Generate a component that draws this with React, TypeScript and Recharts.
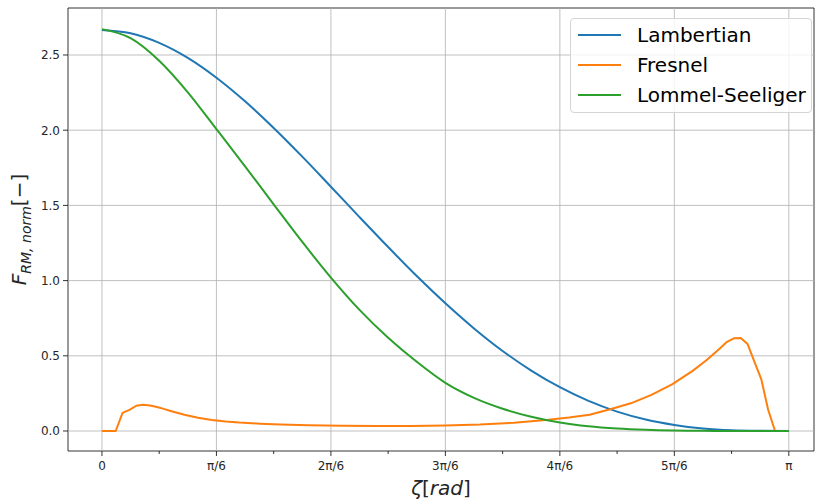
import {
  LineChart,
  Line,
  XAxis,
  YAxis,
  ReferenceLine,
  ReferenceArea,
} from "recharts";

// phase angle in degrees (axis is labelled in fractions of pi)
const SMOOTH_DEG = [
  0, 7.5, 15, 22.5, 30, 37.5, 45, 52.5, 60, 67.5, 75, 82.5, 90, 97.5, 105,
  112.5, 120, 127.5, 135, 142.5, 150, 157.5, 165, 172.5, 180,
];
const LAMBERTIAN = [
  2.667, 2.645, 2.581, 2.481, 2.349, 2.192, 2.015, 1.824, 1.624, 1.422, 1.223,
  1.03, 0.849, 0.682, 0.532, 0.402, 0.291, 0.2, 0.129, 0.076, 0.04, 0.017,
  0.005, 0.001, 0,
];
const LOMMEL_SEELIGER = [
  2.672, 2.612, 2.462, 2.252, 2.007, 1.76, 1.507, 1.257, 1.02, 0.805, 0.62,
  0.46, 0.32, 0.22, 0.148, 0.095, 0.057, 0.032, 0.017, 0.008, 0.003, 0.001, 0,
  0, 0,
];

const FRESNEL_DEG = [
  0, 1.8, 3.6, 5.4, 7.2, 9, 10.8, 12.6, 14.4, 16.2, 18, 21.6, 25.2, 28.8, 32.4,
  36, 41.4, 46.8, 54, 63, 72, 81, 90, 99, 108, 117, 122.4, 127.8, 133.2, 138.6,
  144, 149.4, 154.8, 158.4, 162, 163.8, 165.6, 167.4, 169.2, 171, 172.8, 174.6,
  176.4,
];
const FRESNEL = [
  0, 0, 0, 0.12, 0.14, 0.168, 0.175, 0.17, 0.16, 0.147, 0.133, 0.108, 0.088,
  0.073, 0.063, 0.056, 0.049, 0.044, 0.039, 0.035, 0.033, 0.033, 0.037, 0.043,
  0.055, 0.074, 0.089, 0.108, 0.145, 0.184, 0.24, 0.31, 0.4, 0.47, 0.55, 0.593,
  0.616, 0.618, 0.578, 0.46, 0.343, 0.14, 0,
];

const X_MAJOR = [0, 30, 60, 90, 120, 150, 180];
const X_MAJOR_LABELS = ["0", "π/6", "2π/6", "3π/6", "4π/6", "5π/6", "π"];
const X_TICKS = [0, 15, 30, 45, 60, 75, 90, 105, 120, 135, 150, 165, 180];
const Y_TICKS = [0, 0.5, 1, 1.5, 2, 2.5];
const X_DOMAIN = [-8.9, 186.6];
const Y_DOMAIN = [-0.133, 2.8125];

const lambertData = SMOOTH_DEG.map((d, i) => ({ deg: d, v: LAMBERTIAN[i] }));
const lommelData = SMOOTH_DEG.map((d, i) => ({ deg: d, v: LOMMEL_SEELIGER[i] }));
const fresnelData = FRESNEL_DEG.map((d, i) => ({ deg: d, v: FRESNEL[i] }));

const SERIES = [
  { name: "Lambertian", color: "#1f77b4" },
  { name: "Fresnel", color: "#ff7f0e" },
  { name: "Lommel-Seeliger", color: "#2ca02c" },
];

const FONT = "DejaVu Sans, sans-serif";
const TEXT = "#262626";

function XTick({ x, y, payload }: any) {
  const idx = X_MAJOR.indexOf(payload.value);
  const major = idx >= 0;
  return (
    <g>
      <line x1={x} x2={x} y1={y} y2={y + (major ? 5 : 3)} stroke="#000" strokeWidth={0.8} />
      {major && (
        <text x={x} y={y + 19} textAnchor="middle" fontSize={12} fill={TEXT} fontFamily={FONT}>
          {X_MAJOR_LABELS[idx]}
        </text>
      )}
    </g>
  );
}

function YTick({ x, y, payload }: any) {
  return (
    <g>
      <line x1={x - 5} x2={x} y1={y} y2={y} stroke="#000" strokeWidth={0.8} />
      <text x={x - 8} y={y + 4.5} textAnchor="end" fontSize={12} fill={TEXT} fontFamily={FONT}>
        {payload.value.toFixed(1)}
      </text>
    </g>
  );
}

function LegendBox() {
  return (
    <div
      style={{
        position: "absolute",
        left: 570,
        top: 18,
        width: 242,
        height: 95,
        boxSizing: "border-box",
        border: "1px solid #d5d5d5",
        borderRadius: 4,
        background: "rgba(255,255,255,0.8)",
        padding: "1px 0 0 7px",
        fontFamily: FONT,
        fontSize: 20,
        color: "#000",
        whiteSpace: "nowrap",
      }}
    >
      {SERIES.map((s) => (
        <div key={s.name} style={{ display: "flex", alignItems: "center", height: 30 }}>
          <div style={{ width: 43, height: 2, background: s.color, marginRight: 16 }} />
          <span>{s.name}</span>
        </div>
      ))}
    </div>
  );
}

export default function App() {
  return (
    <div style={{ position: "absolute", left: 0, top: 0, width: 815, height: 504, background: "#fff" }}>
      <LineChart width={815} height={504} margin={{ top: 8, right: 1, bottom: 0, left: 0 }}>
        <XAxis
          dataKey="deg"
          type="number"
          domain={X_DOMAIN}
          ticks={X_TICKS}
          interval={0}
          allowDataOverflow
          axisLine={false}
          tickLine={false}
          tickSize={0}
          tickMargin={0}
          height={53}
          tick={<XTick />}
          label={{
            content: ({ viewBox }: any) => (
              <text
                x={viewBox.x + viewBox.width / 2}
                y={viewBox.y + 44}
                textAnchor="middle"
                fontSize={20}
                fill={TEXT}
                fontFamily={FONT}
              >
                <tspan fontStyle="italic">ζ</tspan>
                <tspan>[</tspan>
                <tspan fontStyle="italic">rad</tspan>
                <tspan>]</tspan>
              </text>
            ),
          }}
        />
        <YAxis
          type="number"
          domain={Y_DOMAIN}
          ticks={Y_TICKS}
          interval={0}
          allowDataOverflow
          axisLine={false}
          tickLine={false}
          tickSize={0}
          tickMargin={0}
          width={68}
          tick={<YTick />}
          label={{
            content: ({ viewBox }: any) => {
              const cx = 26;
              const cy = viewBox.y + viewBox.height / 2;
              return (
                <text
                  transform={`translate(${cx},${cy}) rotate(-90)`}
                  textAnchor="middle"
                  fontSize={20}
                  fill={TEXT}
                  fontFamily={FONT}
                >
                  <tspan fontStyle="italic">F</tspan>
                  <tspan fontStyle="italic" fontSize={14} dy={5}>RM, norm</tspan>
                  <tspan dy={-5}>[−]</tspan>
                </text>
              );
            },
          }}
        />
        {X_MAJOR.map((v) => (
          <ReferenceLine key={"gx" + v} x={v} stroke="#b0b0b0" strokeWidth={0.8} />
        ))}
        {Y_TICKS.map((v) => (
          <ReferenceLine key={"gy" + v} y={v} stroke="#b0b0b0" strokeWidth={0.8} />
        ))}
        <ReferenceArea
          x1={X_DOMAIN[0]}
          x2={X_DOMAIN[1]}
          y1={Y_DOMAIN[0]}
          y2={Y_DOMAIN[1]}
          fill="none"
          stroke="#000"
          strokeWidth={0.8}
        />
        <Line
          data={lambertData}
          dataKey="v"
          name="Lambertian"
          type="monotone"
          stroke={SERIES[0].color}
          strokeWidth={2}
          dot={false}
          isAnimationActive={false}
        />
        <Line
          data={fresnelData}
          dataKey="v"
          name="Fresnel"
          type="linear"
          stroke={SERIES[1].color}
          strokeWidth={2}
          strokeLinejoin="round"
          dot={false}
          isAnimationActive={false}
        />
        <Line
          data={lommelData}
          dataKey="v"
          name="Lommel-Seeliger"
          type="monotone"
          stroke={SERIES[2].color}
          strokeWidth={2}
          dot={false}
          isAnimationActive={false}
        />
      </LineChart>
      <LegendBox />
    </div>
  );
}
